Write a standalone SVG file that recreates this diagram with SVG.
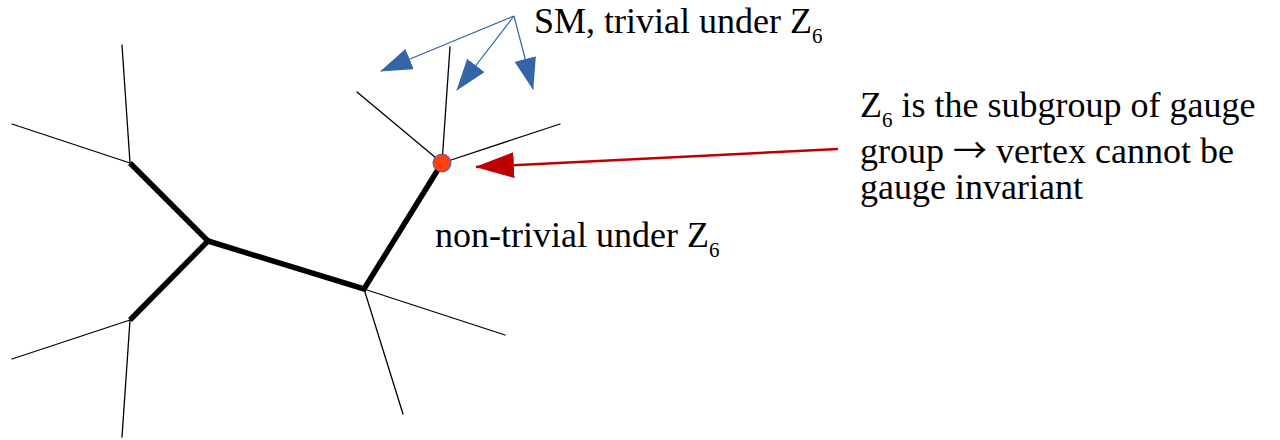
<svg xmlns="http://www.w3.org/2000/svg" width="1280" height="440" viewBox="0 0 1280 440">
<style>
.thin{stroke:#000;stroke-width:1.3;fill:none;stroke-linecap:round}
.thick{stroke:#000;stroke-width:5.5;fill:none;stroke-linecap:butt}
.blue{stroke:#3465a8;stroke-width:1.2;fill:none}
.red{stroke:#c00000;stroke-width:2.5;fill:none}
text{font-family:"Liberation Serif","Times New Roman",serif;font-size:36px;fill:#000}
.sub{font-size:21px}
.arr{font-family:"Noto Sans CJK SC","DejaVu Sans",sans-serif;font-size:34px}
</style>
<defs>
<marker id="ab" markerUnits="userSpaceOnUse" viewBox="0 0 32 22" refX="31" refY="11" markerWidth="32" markerHeight="22" orient="auto">
<path d="M0,0 L32,11 L0,22 Z" fill="#3465a8"/>
</marker>
<marker id="ar" markerUnits="userSpaceOnUse" viewBox="0 0 39 26" refX="38" refY="13" markerWidth="39" markerHeight="26" orient="auto">
<path d="M0,0 L39,13 L0,26 Z" fill="#c00000"/>
</marker>
</defs>
<g id="graph">
<line class="thin" x1="130" y1="163" x2="122" y2="45"/>
<line class="thin" x1="130" y1="163" x2="12" y2="124"/>
<line class="thin" x1="130" y1="320" x2="12" y2="359"/>
<line class="thin" x1="130" y1="320" x2="122" y2="437"/>
<line class="thin" x1="364" y1="289" x2="505" y2="335"/>
<line class="thin" x1="364" y1="289" x2="403" y2="414"/>
<line class="thin" x1="442" y1="163" x2="357" y2="92"/>
<line class="thin" x1="442" y1="163" x2="560" y2="124"/>
<line class="thin" x1="442" y1="163" x2="450" y2="47"/>
<polyline class="thick" points="130,163 208,241 130,320"/>
<polyline class="thick" points="208,241 364,289 442,163"/>
</g>
<g id="vertex">
<circle cx="442" cy="163" r="9" fill="#ff4010" stroke="#3465a8" stroke-width="1"/>
</g>
<g id="connectors">
<line class="blue" x1="514" y1="16" x2="381" y2="71" marker-end="url(#ab)"/>
<line class="blue" x1="514" y1="16" x2="457" y2="90" marker-end="url(#ab)"/>
<line class="blue" x1="514" y1="16" x2="533" y2="89" marker-end="url(#ab)"/>
<line class="red" x1="838" y1="149" x2="476" y2="167" marker-end="url(#ar)"/>
</g>
<g id="label-sm">
<text x="534" y="33">SM, trivial under Z<tspan class="sub" dy="10">6</tspan></text>
</g>
<g id="label-nontrivial">
<text x="435" y="247">non-trivial under Z<tspan class="sub" dy="10">6</tspan></text>
</g>
<g id="label-z6">
<text x="860" y="117">Z<tspan class="sub" dy="10">6</tspan><tspan dy="-10"> is the subgroup of gauge</tspan></text>
<text x="860" y="163">group <tspan class="arr">→</tspan> vertex cannot be</text>
<text x="860" y="199">gauge invariant</text>
</g>
</svg>
